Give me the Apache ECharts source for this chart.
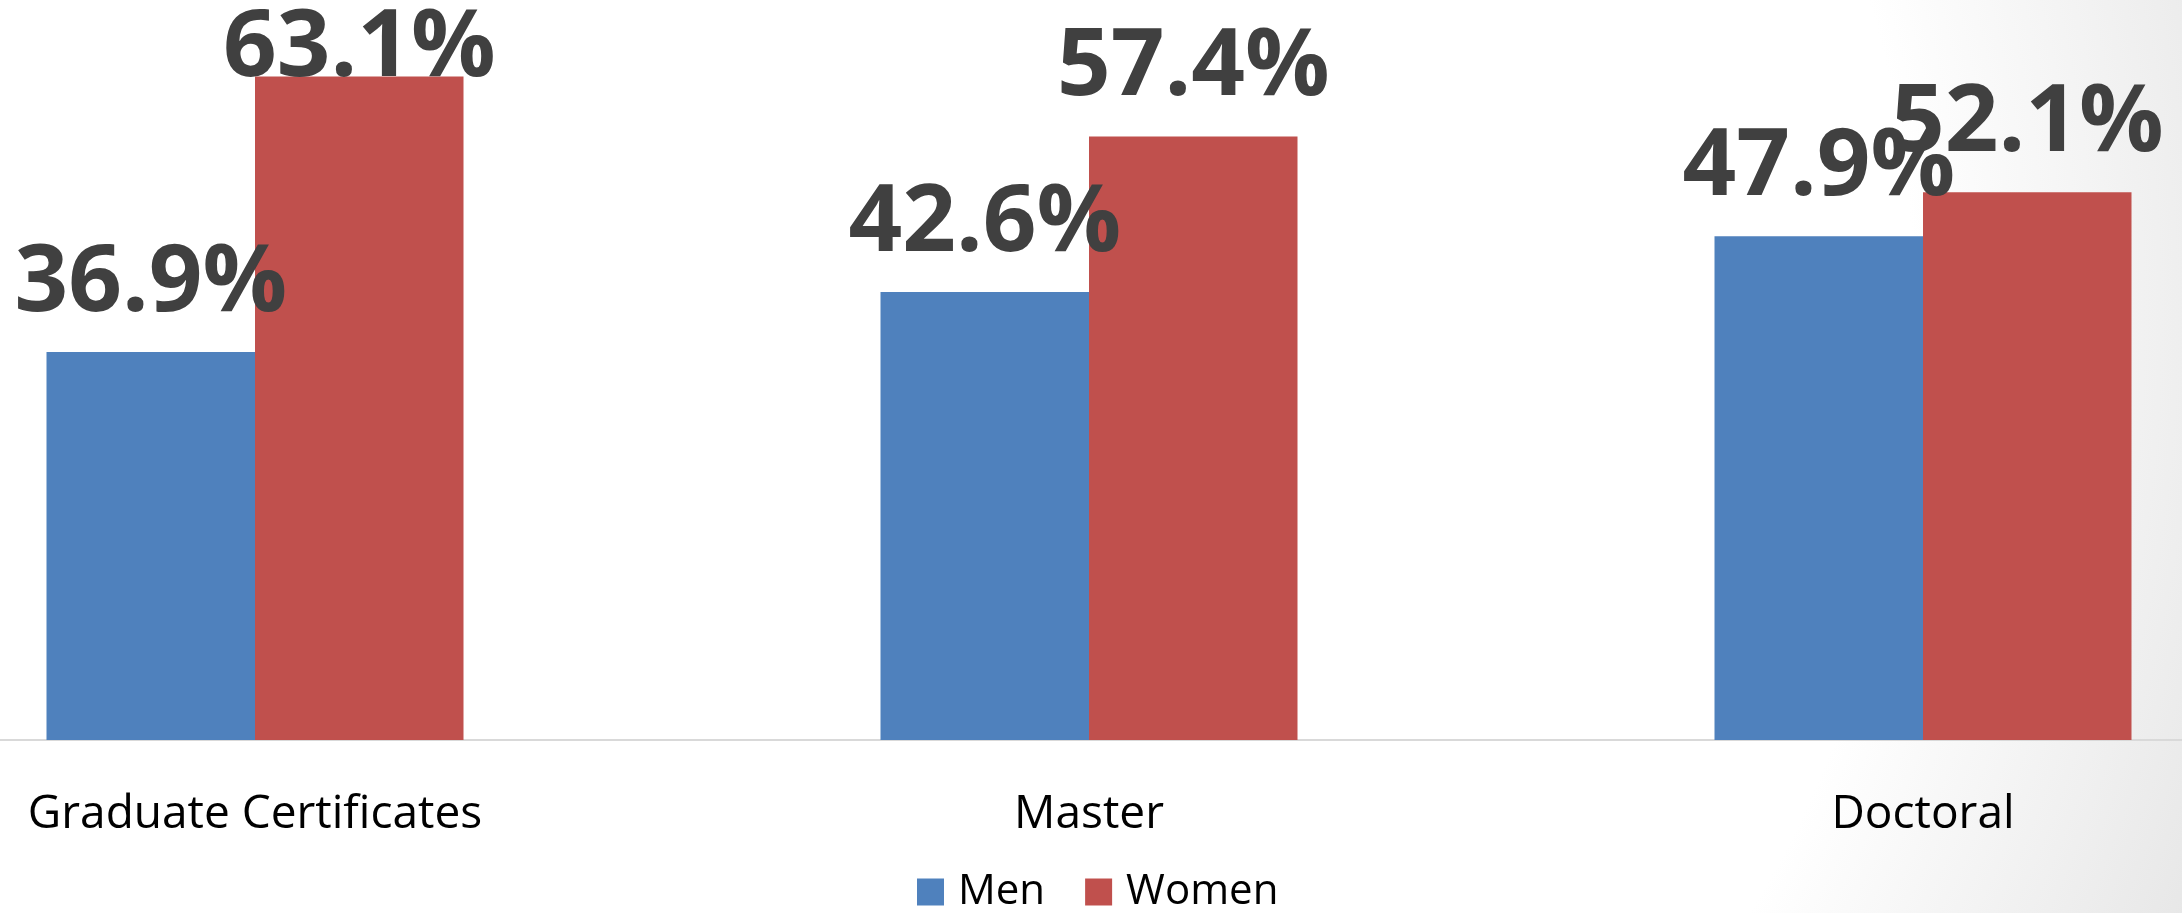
<!DOCTYPE html>
<html>
<head>
<meta charset="utf-8">
<script src="https://cdn.jsdelivr.net/npm/echarts@6/dist/echarts.min.js"></script>
<style>
  html, body { margin: 0; padding: 0; overflow: hidden; }
  #wrap {
    position: relative;
    width: 2182px; height: 913px; overflow: hidden;
    background: radial-gradient(circle at 764px 320px, #ffffff 1150px, #e6e6e6 1560px);
  }
  #chart {
    position: absolute; left: -162px; top: 0;
    width: 2502px; height: 913px;
  }
</style>
</head>
<body>
<div id="wrap"><div id="chart"></div></div>
<script>
const categories = ['Graduate Certificates', 'Master', 'Doctoral'];
const seriesNames = ['Men', 'Women'];
const menValues = [36.9, 42.6, 47.9];
const womenValues = [63.1, 57.4, 52.1];

const chart = echarts.init(document.getElementById('chart'), null, { renderer: 'canvas' });

const labelFont = {
  show: true,
  position: 'top',
  distance: 21,
  fontFamily: '"Open Sans", sans-serif',
  fontWeight: 'bold',
  fontSize: 94,
  lineHeight: 94,
  color: '#404040',
  formatter: p => p.value.toFixed(1) + '%'
};

function buildData(values, yMax) {
  // labels that would leave the plot area are pushed down onto the bar top (as the original does)
  return values.map(v => (v > 0.88 * yMax)
    ? { value: v, label: { distance: -20 } }
    : { value: v });
}

const yMax = 70;

chart.setOption({
  animation: false,
  grid: { left: 0, right: 0, top: 4, bottom: 173, containLabel: false },
  legend: {
    data: seriesNames,
    top: 871,
    left: 1079,
    padding: 0,
    itemWidth: 27,
    itemHeight: 27,
    itemGap: 40,
    icon: 'rect',
    textStyle: {
      fontFamily: '"Open Sans", sans-serif',
      fontSize: 42,
      color: '#000000',
      padding: [0, 0, 0, 9]
    }
  },
  xAxis: {
    type: 'category',
    data: categories,
    axisLine: { show: true, lineStyle: { color: '#d9d9d9', width: 2 } },
    axisTick: { show: false },
    axisLabel: {
      fontFamily: '"Open Sans", sans-serif',
      fontSize: 46,
      lineHeight: 46,
      color: '#000000',
      margin: 52
    }
  },
  yAxis: {
    type: 'value',
    min: 0,
    max: yMax,
    show: false,
    splitLine: { show: false }
  },
  series: [
    {
      name: seriesNames[0],
      type: 'bar',
      data: buildData(menValues, yMax),
      barGap: '0%',
      barCategoryGap: '50%',
      itemStyle: { color: '#4F81BD' },
      label: labelFont
    },
    {
      name: seriesNames[1],
      type: 'bar',
      data: buildData(womenValues, yMax),
      barGap: '0%',
      barCategoryGap: '50%',
      itemStyle: { color: '#C0504D' },
      label: labelFont
    }
  ]
});
</script>
</body>
</html>
